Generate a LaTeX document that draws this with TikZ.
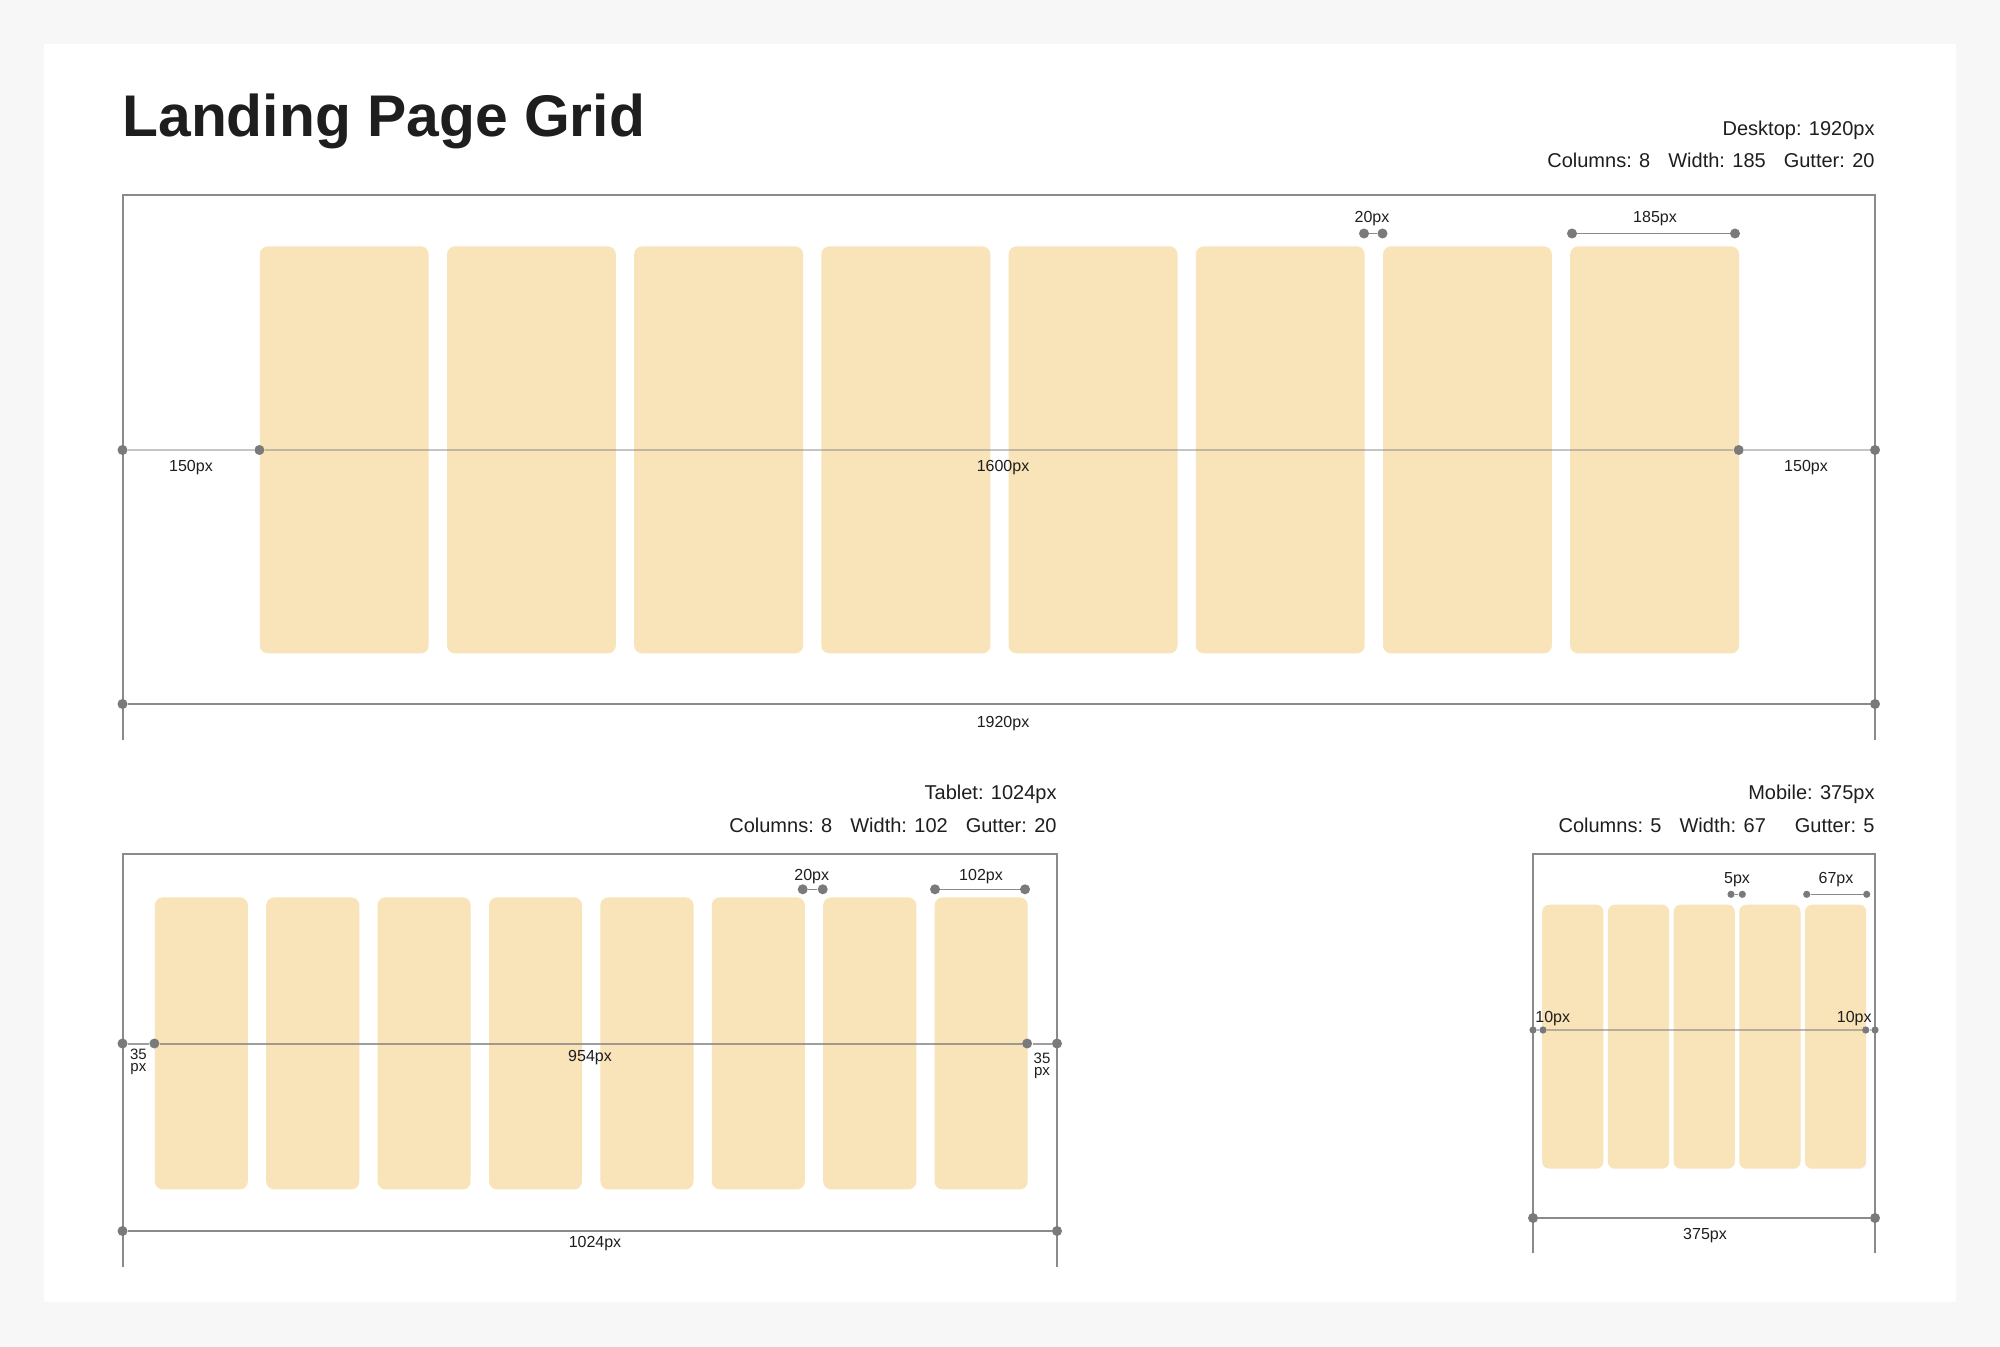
\documentclass[tikz,border=0pt]{standalone}
\usepackage{fontspec}
\setmainfont{Liberation Sans}
\definecolor{bg}{HTML}{F7F7F7}
\definecolor{colfill}{HTML}{F9E3B8}
\definecolor{linegray}{HTML}{8A8A8A}
\definecolor{dotgray}{HTML}{7A7A7A}
\definecolor{ink}{HTML}{1E1E1E}
\begin{document}
\begin{tikzpicture}[x=0.5pt,y=-0.5pt,
  frame/.style={draw=linegray, line width=1pt},
  dimline/.style={draw=linegray, line width=1pt},
  midline/.style={draw=black!50, line width=1pt, draw opacity=#1},
  topdim/.style={draw=linegray, line width=0.75pt},
  dot/.style={circle, fill=dotgray, inner sep=0pt, minimum size=5pt},
  sdot/.style={circle, fill=dotgray, inner sep=0pt, minimum size=3.6pt},
  col/.style={fill=colfill, rounded corners=4pt, inner sep=0pt, anchor=north west},
  lbl/.style={font=\fontsize{8}{9.6}\selectfont, text=ink, anchor=base, inner sep=0pt},
  slbl/.style={font=\fontsize{7.5}{6.3}\selectfont, text=ink, align=center, inner sep=0pt},
  hdr/.style={font=\fontsize{10}{12}\selectfont, text=ink, anchor=base east, inner sep=0pt},
]
\useasboundingbox (0,0) rectangle (2000,1347);
\fill[bg] (0,0) rectangle (2000,1347);
\fill[white] (44,44) rectangle (1956,1302);

% title
\node[anchor=base west, inner sep=0pt, text=ink, font=\fontsize{29.4}{35}\selectfont\bfseries] (title) at (122,137) {Landing Page Grid};

% ---------------- Desktop ----------------
\node[hdr] (dhead) at (1875,136) {Desktop: 1920px};
\node[hdr] (dspec) at (1875,168) {Columns: 8\hspace{9pt}Width: 185\hspace{9pt}Gutter: 20};
\coordinate (dTL) at (122.5,195); \coordinate (dTR) at (1875,195);
\coordinate (dBL) at (122.5,740); \coordinate (dBR) at (1875,740);
\draw[frame] (dBL) -- (dTL) -- (dTR) -- (dBR);
\foreach \i in {0,...,7}
  \node[col, minimum width=84.45pt, minimum height=203.5pt] (dc\i) at ({259.4+187.2*\i},246) {};
% mid dimension
\node[dot] (dm1) at (122.5,450) {};
\node[dot] (dm2) at (259.4,450) {};
\node[dot] (dm3) at (1738.7,450) {};
\node[dot] (dm4) at (1875,450) {};
\draw[midline=0.45] (dm1) -- (dm2) -- (dm3) -- (dm4);
\node[lbl] (dl1) at (191,472) {150px};
\node[lbl] (dl2) at (1003,472) {1600px};
\node[lbl] (dl3) at (1806,472) {150px};
% bottom dimension
\node[dot] (db1) at (122.5,704) {};
\node[dot] (db2) at (1875,704) {};
\draw[dimline] (db1) -- (db2);
\node[lbl] (dbl) at (1003,727) {1920px};
% top dimensions
\node[dot] (dg1) at (1364,233.5) {};
\node[dot] (dg2) at (1382.5,233.5) {};
\draw[topdim] (dg1) -- (dg2);
\node[lbl] (dgl) at (1372,223) {20px};
\node[dot] (dw1) at (1572,233.5) {};
\node[dot] (dw2) at (1735,233.5) {};
\draw[topdim] (dw1) -- (dw2);
\node[lbl] (dwl) at (1655,223) {185px};

% ---------------- Tablet ----------------
\node[hdr] (thead) at (1057,799) {Tablet: 1024px};
\node[hdr] (tspec) at (1057,832) {Columns: 8\hspace{9pt}Width: 102\hspace{9pt}Gutter: 20};
\coordinate (tTL) at (122.5,853.5); \coordinate (tTR) at (1057,853.5);
\coordinate (tBL) at (122.5,1266.5); \coordinate (tBR) at (1057,1266.5);
\draw[frame] (tBL) -- (tTL) -- (tTR) -- (tBR);
\foreach \i in {0,...,7}
  \node[col, minimum width=46.55pt, minimum height=146pt] (tc\i) at ({154.4+111.4*\i},897) {};
\node[dot] (tm1) at (122.5,1043.5) {};
\node[dot] (tm2) at (154.4,1043.5) {};
\node[dot] (tm3) at (1027.1,1043.5) {};
\node[dot] (tm4) at (1057,1043.5) {};
\draw[midline=0.75] (tm1) -- (tm2) -- (tm3) -- (tm4);
\node[slbl] (tl1) at (138.4,1062) {35\\px};
\node[lbl] (tl2) at (590,1061) {954px};
\node[slbl] (tl3) at (1042,1066) {35\\px};
\node[dot] (tb1) at (122.5,1231) {};
\node[dot] (tb2) at (1057,1231) {};
\draw[dimline] (tb1) -- (tb2);
\node[lbl] (tbl) at (595,1247) {1024px};
\node[dot] (tg1) at (802.7,889.3) {};
\node[dot] (tg2) at (822.7,889.3) {};
\draw[topdim] (tg1) -- (tg2);
\node[lbl] (tgl) at (811.7,880) {20px};
\node[dot] (tw1) at (935,889.3) {};
\node[dot] (tw2) at (1025,889.3) {};
\draw[topdim] (tw1) -- (tw2);
\node[lbl] (twl) at (981,880) {102px};

% ---------------- Mobile ----------------
\node[hdr] (mhead) at (1875,799) {Mobile: 375px};
\node[hdr] (mspec) at (1875,832) {Columns: 5\hspace{9pt}Width: 67\hspace{14.5pt}Gutter: 5};
\coordinate (mTL) at (1533,853.5); \coordinate (mTR) at (1875,853.5);
\coordinate (mBL) at (1533,1252.5); \coordinate (mBR) at (1875,1252.5);
\draw[frame] (mBL) -- (mTL) -- (mTR) -- (mBR);
\foreach \i in {0,...,4}
  \node[col, rounded corners=3.5pt, minimum width=30.6pt, minimum height=132pt] (mc\i) at ({1541.8+65.7*\i},904.3) {};
\node[sdot] (mm1) at (1533,1030) {};
\node[sdot] (mm2) at (1543,1030) {};
\node[sdot] (mm3) at (1865.7,1030) {};
\node[sdot] (mm4) at (1875,1030) {};
\draw[midline=0.55] (mm1) -- (mm2) -- (mm3) -- (mm4);
\node[lbl, anchor=base west] (ml1) at (1535,1022.5) {10px};
\node[lbl, anchor=base east] (ml2) at (1872,1022.5) {10px};
\node[dot] (mb1) at (1533,1218) {};
\node[dot] (mb2) at (1875,1218) {};
\draw[dimline] (mb1) -- (mb2);
\node[lbl] (mbl) at (1705,1239) {375px};
\node[sdot] (mg1) at (1731,894.3) {};
\node[sdot] (mg2) at (1742.3,894.3) {};
\draw[topdim] (mg1) -- (mg2);
\node[lbl] (mgl) at (1737,883) {5px};
\node[sdot] (mw1) at (1806.7,894.3) {};
\node[sdot] (mw2) at (1866.7,894.3) {};
\draw[topdim] (mw1) -- (mw2);
\node[lbl] (mwl) at (1836,883) {67px};
\end{tikzpicture}
\end{document}
